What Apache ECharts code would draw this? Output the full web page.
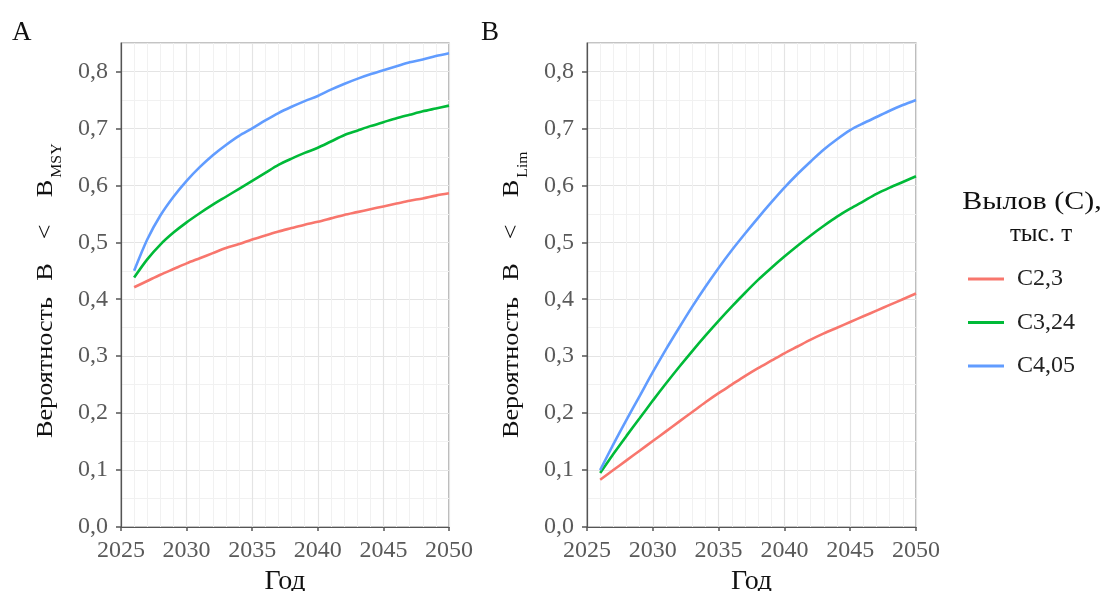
<!DOCTYPE html>
<html><head><meta charset="utf-8">
<script src="https://cdn.jsdelivr.net/npm/echarts@6/dist/echarts.min.js"></script>
<style>html,body{margin:0;padding:0;background:#fff}#c{width:1104px;height:591px}</style>
</head><body><div id="c"></div>
<script>
const years = [2026,2027,2028,2029,2030,2031,2032,2033,2034,2035,2036,2037,2038,2039,2040,2041,2042,2043,2044,2045,2046,2047,2048,2049,2050];
const seriesNames = ['C2,3','C3,24','C4,05'];
const colors = ['#F8766D','#00BA38','#619CFF'];
// Panel A: probability B < B_MSY
const a_C23  = [.421,.432,.443,.453,.463,.472,.481,.490,.497,.505,.512,.519,.525,.531,.536,.542,.548,.553,.558,.563,.568,.573,.577,.582,.586];
const a_C324 = [.438,.470,.496,.517,.535,.551,.566,.580,.594,.608,.622,.636,.647,.657,.666,.677,.688,.696,.704,.711,.718,.724,.730,.735,.740];
const a_C405 = [.450,.505,.547,.580,.608,.632,.653,.671,.687,.700,.714,.727,.738,.748,.757,.768,.778,.787,.795,.802,.809,.816,.821,.827,.832];
// Panel B: probability B < B_Lim
const b_C23  = [.083,.100,.117,.134,.151,.168,.185,.202,.219,.235,.250,.265,.279,.292,.305,.317,.329,.340,.350,.360,.370,.380,.390,.400,.410];
const b_C324 = [.095,.128,.160,.191,.222,.252,.281,.309,.336,.362,.387,.411,.434,.455,.475,.494,.512,.529,.545,.559,.572,.585,.596,.606,.616];
const b_C405 = [.100,.145,.188,.230,.272,.312,.350,.387,.422,.455,.486,.515,.543,.570,.596,.620,.642,.663,.681,.697,.709,.720,.731,.741,.750];
const yTicks = [0,0.1,0.2,0.3,0.4,0.5,0.6,0.7,0.8];
const xTicks = [2025,2030,2035,2040,2045,2050];

const FONT = '"Liberation Serif","DejaVu Serif",serif';
const chart = echarts.init(document.getElementById('c'), null, {renderer:'canvas'});

function pairs(arr){ return years.map((y,i)=>[y,arr[i]]); }

function xAxis(idx){
  return {
    type:'value', gridIndex:idx, min:xTicks[0], max:xTicks[xTicks.length-1], interval:5,
    name:'Год', nameLocation:'middle', nameGap:39,
    nameTextStyle:{fontFamily:FONT, fontSize:28, color:'#111'},
    axisLine:{show:true, lineStyle:{color:'#555', width:1.2}},
    axisTick:{show:true, length:4, lineStyle:{color:'#555', width:1.5}},
    axisLabel:{fontFamily:FONT, fontSize:24, color:'#5a5a5a', margin:12, formatter:v=>String(v)},
    splitLine:{show:true, lineStyle:{color:'#e4e4e4', width:1.2}},
    minorTick:{show:false, splitNumber:5},
    minorSplitLine:{show:true, lineStyle:{color:'#f1f1f1', width:1}}
  };
}
function yAxis(idx){
  return {
    type:'value', gridIndex:idx, min:yTicks[0], max:0.85, interval:0.1,
    axisLine:{show:true, lineStyle:{color:'#555', width:1.2}},
    axisTick:{show:true, length:5, lineStyle:{color:'#555', width:1.5}},
    axisLabel:{fontFamily:FONT, fontSize:24, color:'#5a5a5a', margin:13, showMaxLabel:false,
      formatter:v=>v.toFixed(1).replace('.', ',')},
    splitLine:{show:true, lineStyle:{color:'#e4e4e4', width:1.2}},
    minorTick:{show:false, splitNumber:2},
    minorSplitLine:{show:true, lineStyle:{color:'#f1f1f1', width:1}}
  };
}
const dataA = [a_C23, a_C324, a_C405];
const dataB = [b_C23, b_C324, b_C405];
const series = [];
[dataA, dataB].forEach((set, gi)=>{
  set.forEach((arr, si)=>{
    series.push({
      name: seriesNames[si], type:'line', xAxisIndex:gi, yAxisIndex:gi,
      data: pairs(arr), symbol:'none', smooth:0.3,
      lineStyle:{color:colors[si], width:2.6}, itemStyle:{color:colors[si]},
      z: 3
    });
  });
});

function yTitle(x, y, sub){
  const main = {fontFamily:FONT, fontSize:24, fill:'#111', lineHeight:38};
  return {
    type:'text', x:x, y:y, rotation:Math.PI/2, scaleX:1.09,
    style:{
      text:'{m|Вероятность}{b|B}{l|<}{c|B}{s|' + sub + '}',
      align:'left', verticalAlign:'middle',
      rich:{
        m:Object.assign({}, main),
        b:Object.assign({}, main, {padding:[0,0,0,15]}),
        l:Object.assign({}, main, {padding:[0,0,0,22]}),
        c:Object.assign({}, main, {padding:[0,0,0,25]}),
        s:{fontFamily:FONT, fontSize:14.5, fill:'#111', lineHeight:15, verticalAlign:'bottom', padding:[0,0,0,2]}
      }
    }
  };
}

chart.setOption({
  animation:false,
  grid:[
    {left:121, top:43, width:328, height:484, outerBoundsMode:'none', containLabel:false, show:true, borderColor:'#8a8a8a', borderWidth:1.2, backgroundColor:'transparent'},
    {left:587, top:43, width:329, height:484, outerBoundsMode:'none', containLabel:false, show:true, borderColor:'#8a8a8a', borderWidth:1.2, backgroundColor:'transparent'}
  ],
  xAxis:[xAxis(0), xAxis(1)],
  yAxis:[yAxis(0), yAxis(1)],
  legend:{
    data:seriesNames, orient:'vertical', left:963, top:262,
    icon:'rect', itemWidth:36, itemHeight:3, itemGap:19.5,
    textStyle:{fontFamily:FONT, fontSize:24, color:'#222', lineHeight:24, padding:[0,0,0,8]},
    selectedMode:false
  },
  series: series,
  graphic:[
    {type:'text', left:12, top:19, style:{text:'A', fontFamily:FONT, fontSize:27, fill:'#111'}},
    {type:'text', left:481, top:19, style:{text:'B', fontFamily:FONT, fontSize:27, fill:'#111'}},
    yTitle(46, 438, 'MSY'),
    yTitle(512, 438, 'Lim'),
    {type:'text', x:1032, y:202, scaleX:1.2, style:{text:'Вылов (C),', fontFamily:FONT, fontSize:25, fill:'#111', align:'center', verticalAlign:'middle'}},
    {type:'text', x:1041, y:234, style:{text:'тыс. т', fontFamily:FONT, fontSize:25, fill:'#111', align:'center', verticalAlign:'middle'}}
  ]
});
</script></body></html>
